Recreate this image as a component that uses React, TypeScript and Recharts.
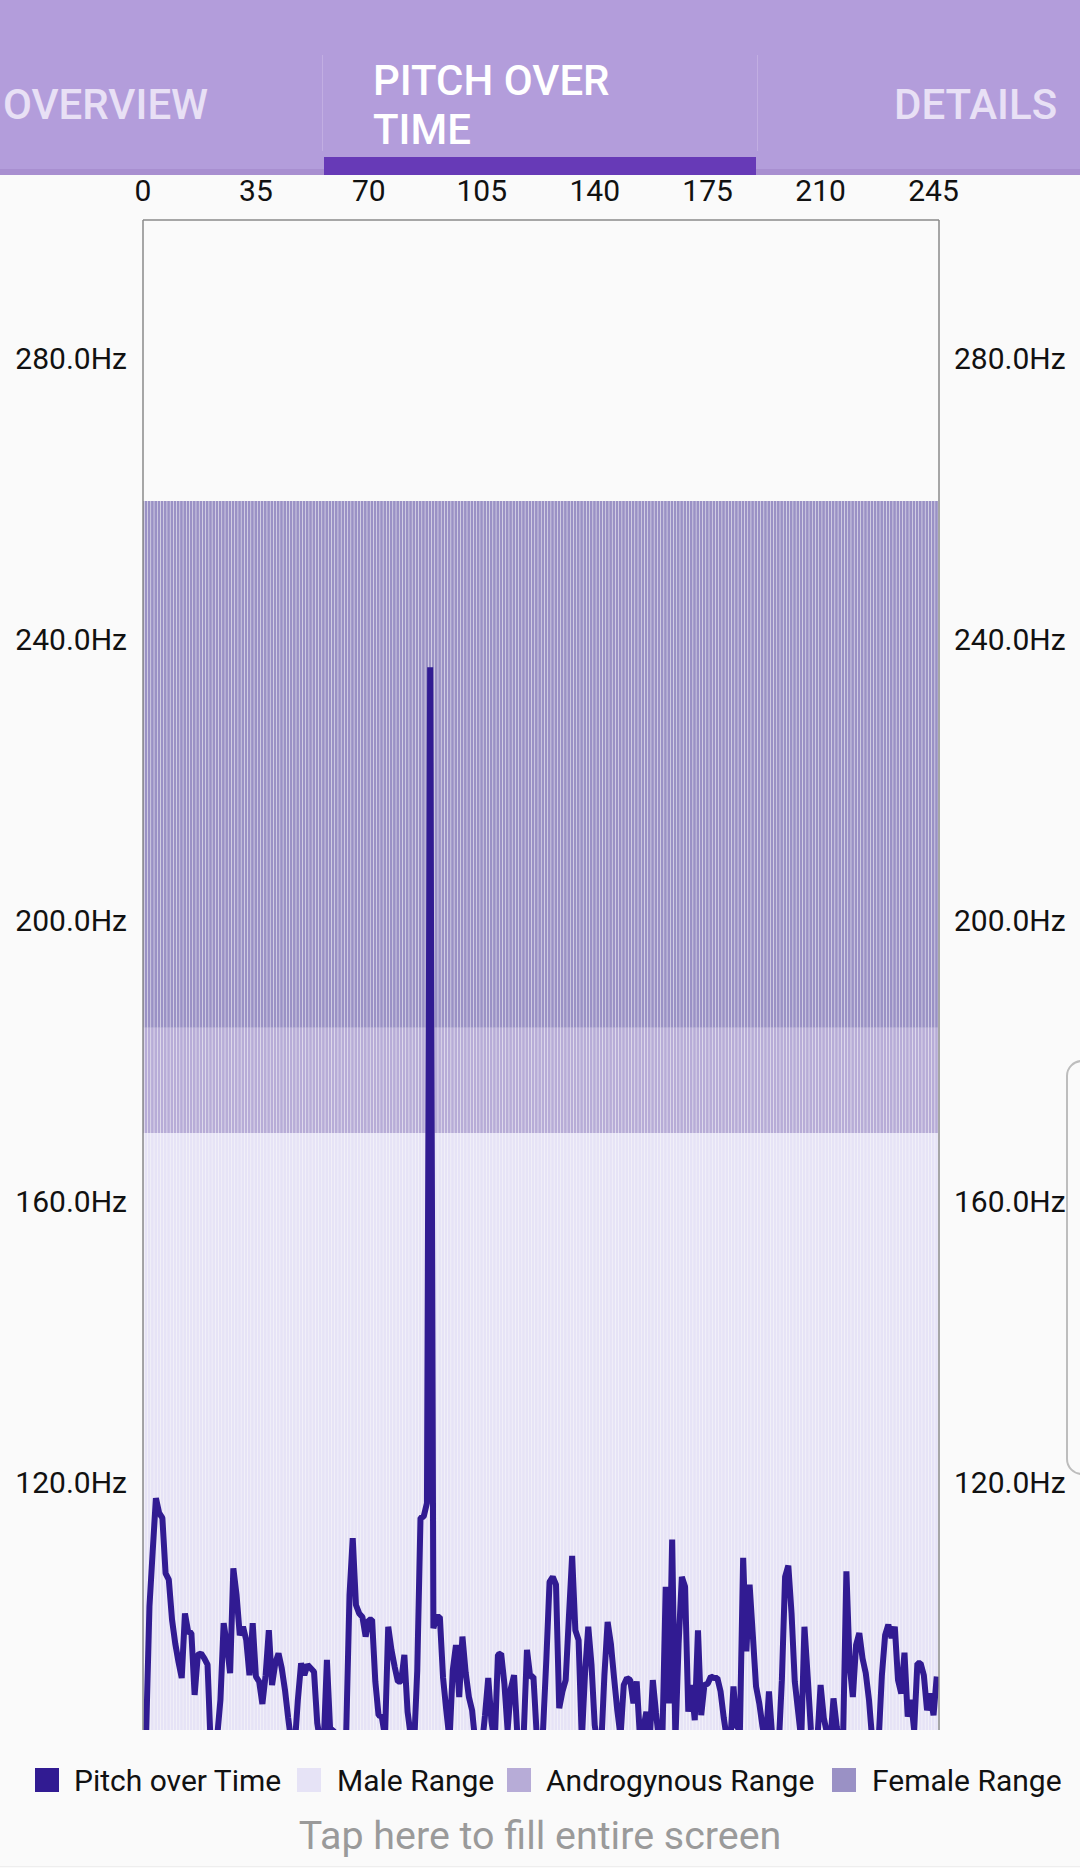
import { Bar, ComposedChart, Legend, Line, XAxis, YAxis } from "recharts";

const PITCH = [
  70, 85, 102.6, 110.4, 118, 115.9, 115.2, 107.3, 106.4, 100.7, 97.3, 94.7, 92.4, 101.6, 99, 98.8, 90, 95.7, 95.9, 95.2,
  94.3, 82.6, 80.3, 84.1, 89.3, 100.2, 97.1, 93.1, 108, 104.2, 98.5, 99.7, 97.8, 92.8, 100.2, 92.6, 91.9, 88.7, 92.8, 99.2,
  91.4, 94.5, 95.9, 93.8, 90.7, 86.7, 83.1, 82.6, 89.3, 94.5, 92.8, 94.3, 93.8, 93.3, 86, 83.1, 83.1, 95, 85, 85,
  82.6, 80.3, 80.3, 85, 104.2, 112.3, 102.8, 101.6, 101.1, 98.3, 100.7, 100.7, 91.9, 87.1, 86.9, 84.1, 99.7, 96.4, 94, 91.9,
  91.9, 95.7, 87.6, 84.1, 82.6, 93.5, 115.2, 115.4, 117.3, 236.3, 99.5, 101.1, 101.1, 92.4, 87.8, 83.6, 93.5, 97.1, 89.7, 98.3,
  93.2, 89.7, 87.8, 83.1, 80.3, 82.6, 87.1, 92.4, 86.2, 83.1, 95.7, 95.9, 91.6, 85, 90.9, 92.8, 84.5, 80.3, 84.5, 96.4,
  92.6, 92.6, 84.5, 80.3, 85.2, 95, 106.1, 106.8, 105.7, 88.1, 90.5, 92.1, 101.1, 109.8, 99.2, 97.8, 83.6, 93.1, 99.7, 94.3,
  85.7, 82.6, 82.6, 92.8, 100.4, 97.3, 92.4, 87.8, 84.1, 91.4, 92.4, 92.1, 88.8, 91.9, 84.1, 85, 87.6, 83.1, 92.1, 87.4,
  83.1, 84.5, 105.4, 88.8, 112.1, 83.6, 97.3, 106.8, 105.4, 87.6, 91.4, 86.4, 99.2, 87.1, 91.4, 91.6, 92.6, 92.4, 92.4, 90.5,
  86.7, 83.6, 83.1, 91.2, 85.5, 85, 109.5, 96.2, 105.7, 98.5, 91.2, 88.8, 85.5, 83.1, 90.5, 84.1, 81.2, 82.6, 92.1, 106.8,
  108.4, 101.6, 91.9, 87.8, 83.6, 99.7, 92.6, 85, 81.2, 83.6, 91.4, 86.7, 84.5, 83.1, 89.5, 85.5, 82.6, 84.5, 107.6, 94.3,
  89.7, 97.1, 98.8, 95.2, 93.1, 89.3, 83.6, 80.3, 83.6, 92.8, 98.5, 100, 98.1, 99.7, 92.1, 90.2, 96, 86.9, 89.3, 85,
  94.5, 94.5, 92.8, 87.8, 90.2, 87.1, 92.6,
];

// stacked band heights in Hz
const MALE_TOP = 170;
const ANDRO_SPAN = 15;
const FEMALE_SPAN = 75;

const X_TICKS = [0, 35, 70, 105, 140, 175, 210, 245];
const Y_TICKS = [120, 160, 200, 240, 280];

const COLORS: Record<string, string> = {
  "Pitch over Time": "#311b92",
  "Male Range": "#e6e3f6",
  "Androgynous Range": "#b7acd7",
  "Female Range": "#9a91c5",
};
const LEGEND_ORDER = ["Pitch over Time", "Male Range", "Androgynous Range", "Female Range"];
const LEGEND_X = [35, 297, 507, 832];
const LEGEND_GAP = [15, 16, 15, 16];
const BAR_W = 2.7;

const data = PITCH.map((pitch, i) => ({
  i,
  pitch,
  male: MALE_TOP,
  andro: ANDRO_SPAN,
  female: FEMALE_SPAN,
}));

const FONT = "Roboto, sans-serif";

function ChartLegend() {
  return (
    <div style={{ position: "relative", height: 50, fontFamily: FONT, fontSize: 30, color: "#111" }}>
      {LEGEND_ORDER.map((name, k) => (
        <div key={name} style={{ position: "absolute", left: LEGEND_X[k], top: 0, display: "flex", alignItems: "center", height: 28, whiteSpace: "nowrap" }}>
          <span style={{ width: 24, height: 24, background: COLORS[name], marginRight: LEGEND_GAP[k] }} />
          {name}
        </div>
      ))}
    </div>
  );
}

function Tab({ text, left, top, color, width }: { text: string; left: number; top: number; color: string; width?: number }) {
  return (
    <div style={{ position: "absolute", left, top, width, color, fontFamily: FONT, fontWeight: 500, fontSize: 42, lineHeight: "49px" }}>
      {text}
    </div>
  );
}

export default function App() {
  const hz = (v: number) => `${v.toFixed(1)}Hz`;
  const tick = { fontSize: 30, fill: "#111", fontFamily: FONT };
  return (
    <div style={{ position: "absolute", left: 0, top: 0, width: 1080, height: 1868, background: "#fafafa", overflow: "hidden" }}>
      <div style={{ position: "absolute", left: 0, top: 0, width: 1080, height: 175, background: "#b39ddb" }} />
      <div style={{ position: "absolute", left: 0, top: 169, width: 1080, height: 6, background: "#a88fd0" }} />
      <div style={{ position: "absolute", left: 324, top: 157, width: 432, height: 18, background: "#673ab7" }} />
      <div style={{ position: "absolute", left: 322, top: 55, width: 1, height: 96, background: "#c2aee2" }} />
      <div style={{ position: "absolute", left: 757, top: 55, width: 1, height: 96, background: "#c2aee2" }} />
      <Tab text="OVERVIEW" left={3} top={80} color="#e8e0f5" />
      <Tab text="PITCH OVER TIME" left={373} top={56} color="#ffffff" width={270} />
      <Tab text="DETAILS" left={894} top={80} color="#e8e0f5" />

      <ComposedChart
        width={1080}
        height={1868}
        data={data}
        margin={{ top: 0, right: 0, bottom: 88, left: 0 }}
        style={{ position: "absolute", left: 0, top: 0 }}
      >
        <XAxis
          dataKey="i"
          type="number"
          orientation="top"
          domain={[0, 246.7]}
          allowDataOverflow
          ticks={X_TICKS}
          height={220}
          tick={tick}
          tickLine={false}
          tickSize={0}
          tickMargin={19}
          axisLine={{ stroke: "#8a8a8a", strokeWidth: 1.5 }}
        />
        <YAxis
          yAxisId="left"
          domain={[85, 300]}
          allowDataOverflow
          ticks={Y_TICKS}
          tickFormatter={hz}
          width={143}
          tick={{ ...tick, dy: -2 }}
          tickLine={false}
          tickSize={0}
          tickMargin={16}
          axisLine={{ stroke: "#8a8a8a", strokeWidth: 1.5 }}
        />
        <YAxis
          yAxisId="right"
          orientation="right"
          domain={[85, 300]}
          allowDataOverflow
          ticks={Y_TICKS}
          tickFormatter={hz}
          width={141}
          tick={{ ...tick, dy: -2 }}
          tickLine={false}
          tickSize={0}
          tickMargin={15}
          axisLine={{ stroke: "#8a8a8a", strokeWidth: 1.5 }}
        />
        <Legend
          verticalAlign="bottom"
          content={<ChartLegend />}
          wrapperStyle={{ position: "absolute", left: 0, width: 1080, top: 1766 }}
        />
        <Bar yAxisId="left" dataKey="male" name="Male Range" stackId="range" fill={COLORS["Male Range"]} barSize={BAR_W} isAnimationActive={false} />
        <Bar yAxisId="left" dataKey="andro" name="Androgynous Range" stackId="range" fill={COLORS["Androgynous Range"]} barSize={BAR_W} isAnimationActive={false} />
        <Bar yAxisId="left" dataKey="female" name="Female Range" stackId="range" fill={COLORS["Female Range"]} barSize={BAR_W} isAnimationActive={false} />
        <Line
          yAxisId="left"
          dataKey="pitch"
          name="Pitch over Time"
          type="linear"
          stroke={COLORS["Pitch over Time"]}
          strokeWidth={6}
          strokeLinejoin="bevel"
          dot={false}
          activeDot={false}
          isAnimationActive={false}
        />
      </ComposedChart>

      <div style={{ position: "absolute", left: 0, width: 1080, top: 1813, textAlign: "center", fontFamily: FONT, fontSize: 39.4, lineHeight: "46px", color: "#9a9a9a" }}>
        Tap here to fill entire screen
      </div>
      <div style={{ position: "absolute", left: 0, top: 1866, width: 1080, height: 1, background: "#eeeeee" }} />
      <div style={{ position: "absolute", left: 1066, top: 1060, width: 30, height: 411, border: "2px solid #bdbdbd", borderRadius: 16, boxSizing: "content-box" }} />
    </div>
  );
}
